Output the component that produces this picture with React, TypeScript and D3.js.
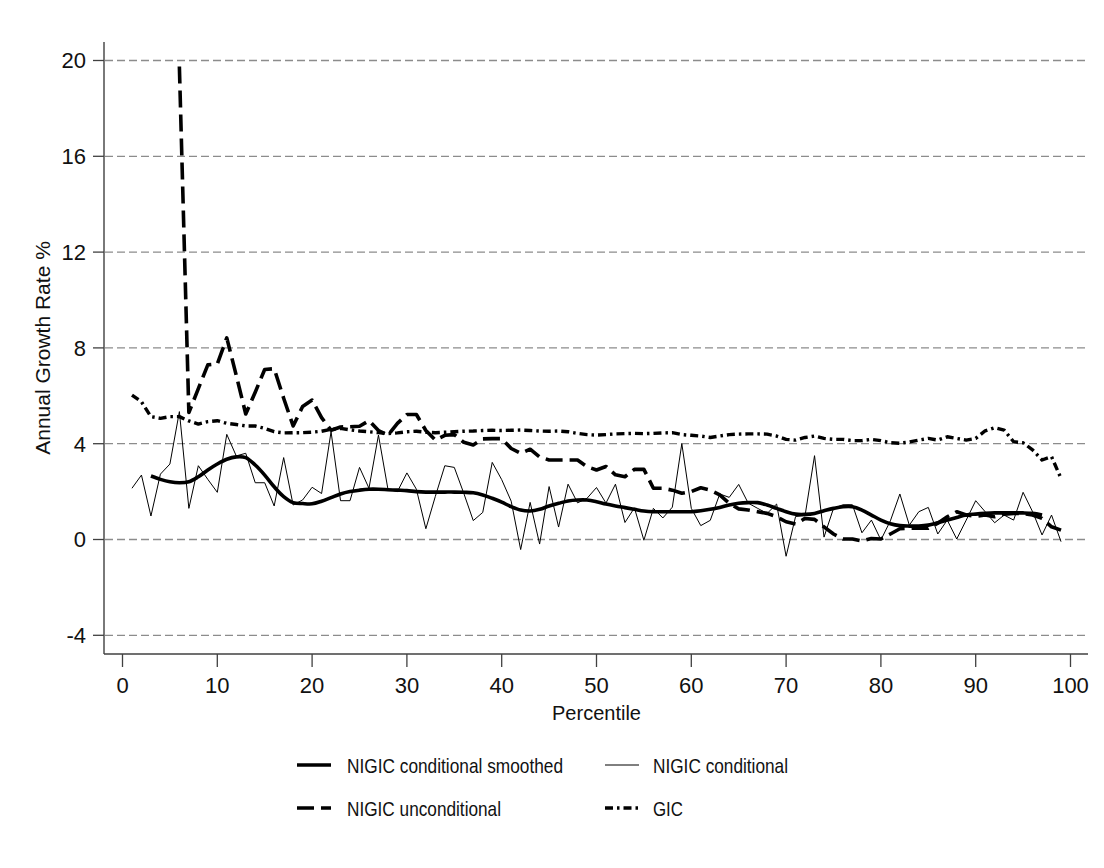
import React from "react";
import * as d3 from "d3";

// Percentile categories
const percentiles = [
  1, 2, 3, 4, 5, 6, 7, 8, 9, 10, 11, 12, 13, 14, 15, 16, 17, 18, 19, 20,
  21, 22, 23, 24, 25, 26, 27, 28, 29, 30, 31, 32, 33, 34, 35, 36, 37, 38, 39, 40,
  41, 42, 43, 44, 45, 46, 47, 48, 49, 50, 51, 52, 53, 54, 55, 56, 57, 58, 59, 60,
  61, 62, 63, 64, 65, 66, 67, 68, 69, 70, 71, 72, 73, 74, 75, 76, 77, 78, 79, 80,
  81, 82, 83, 84, 85, 86, 87, 88, 89, 90, 91, 92, 93, 94, 95, 96, 97, 98, 99,
];

// NIGIC conditional, percentiles 1..99
const conditional = [
  2.14, 2.69, 0.98, 2.73, 3.15, 5.34, 1.3, 3.08, 2.51, 1.97,
  4.39, 3.49, 3.6, 2.37, 2.37, 1.4, 3.42, 1.44, 1.65, 2.18,
  1.92, 4.5, 1.62, 1.62, 3.01, 2.14, 4.36, 2.1, 2.0, 2.78,
  2.1, 0.45, 1.8, 3.08, 3.01, 1.93, 0.79, 1.13, 3.22, 2.5,
  1.6, -0.42, 1.55, -0.19, 2.21, 0.52, 2.31, 1.53, 1.72, 2.17,
  1.52, 2.31, 0.71, 1.32, -0.03, 1.3, 0.9, 1.35, 4.0, 1.3,
  0.58, 0.8, 1.9, 1.76, 2.3, 1.52, 1.3, 1.09, 1.48, -0.7,
  0.96, 1.0, 3.5, 0.1, 1.3, 1.45, 1.45, 0.28, 0.81, -0.02,
  0.78, 1.9, 0.6, 1.16, 1.34, 0.23, 0.81, 0.02, 0.81, 1.62,
  1.16, 0.7, 1.02, 0.81, 1.97, 1.16, 0.19, 1.02, -0.09,
];

// NIGIC conditional smoothed, percentiles 3..97
const smoothedStart = 3;
const smoothed = [
  2.65, 2.51, 2.41, 2.37, 2.41, 2.62, 2.9, 3.15, 3.35, 3.45,
  3.42, 3.11, 2.69, 2.2, 1.79, 1.54, 1.5, 1.49, 1.6, 1.75,
  1.9, 2.0, 2.06, 2.1, 2.1, 2.08, 2.06, 2.04, 2.0, 1.98,
  1.98, 1.98, 1.98, 1.97, 1.95, 1.86, 1.72, 1.56, 1.37, 1.23,
  1.19, 1.26, 1.4, 1.51, 1.61, 1.65, 1.65, 1.58, 1.48, 1.4,
  1.33, 1.26, 1.19, 1.16, 1.16, 1.16, 1.16, 1.16, 1.2, 1.26,
  1.34, 1.44, 1.51, 1.54, 1.54, 1.44, 1.3, 1.16, 1.06, 1.05,
  1.09, 1.2, 1.3, 1.37, 1.37, 1.23, 1.02, 0.81, 0.66, 0.58,
  0.56, 0.56, 0.6, 0.7, 0.81, 0.92, 1.02, 1.06, 1.09, 1.11,
  1.11, 1.11, 1.11, 1.09, 1.02,
];

// NIGIC unconditional, percentiles 6..99
const unconditionalStart = 6;
const unconditional = [
  19.75, 5.3, 6.3, 7.29, 7.33, 8.42, 6.85, 5.24, 6.15, 7.1,
  7.13, 5.9, 4.74, 5.55, 5.82, 5.09, 4.56, 4.7, 4.71, 4.73,
  4.96, 4.55, 4.35, 4.85, 5.22, 5.22, 4.55, 4.15, 4.35, 4.38,
  4.06, 3.95, 4.2, 4.21, 4.21, 3.8, 3.6, 3.77, 3.45, 3.32,
  3.32, 3.32, 3.32, 3.04, 2.9, 3.05, 2.7, 2.62, 2.93, 2.93,
  2.14, 2.14, 2.06, 1.93, 2.0, 2.16, 2.06, 1.86, 1.51, 1.28,
  1.23, 1.16, 1.09, 0.95, 0.74, 0.65, 0.88, 0.84, 0.53, 0.23,
  0.02, 0.02, -0.06, 0.04, 0.02, 0.23, 0.45, 0.47, 0.47, 0.47,
  0.68, 0.95, 1.16, 1.02, 0.97, 1.02, 0.95, 1.06, 1.09, 1.09,
  1.02, 0.88, 0.53, 0.39,
];

// GIC, percentiles 1..99
const gic = [
  6.03, 5.75, 5.13, 5.06, 5.13, 5.13, 4.95, 4.82, 4.92, 4.96,
  4.85, 4.8, 4.74, 4.74, 4.64, 4.5, 4.45, 4.46, 4.46, 4.48,
  4.52, 4.6, 4.64, 4.58, 4.53, 4.5, 4.46, 4.42, 4.45, 4.5,
  4.52, 4.48, 4.46, 4.48, 4.5, 4.52, 4.53, 4.55, 4.56, 4.55,
  4.56, 4.57, 4.55, 4.53, 4.52, 4.53, 4.5, 4.43, 4.38, 4.36,
  4.38, 4.41, 4.42, 4.43, 4.42, 4.43, 4.45, 4.46, 4.38, 4.35,
  4.32, 4.26, 4.32, 4.38, 4.4, 4.41, 4.41, 4.4, 4.32, 4.18,
  4.15, 4.26, 4.32, 4.22, 4.18, 4.18, 4.13, 4.13, 4.18, 4.13,
  4.04, 4.02, 4.07, 4.15, 4.22, 4.15, 4.29, 4.22, 4.15, 4.22,
  4.54, 4.67, 4.57, 4.08, 4.04, 3.74, 3.32, 3.46, 2.55,
];

const xTicks = [0, 10, 20, 30, 40, 50, 60, 70, 80, 90, 100];
const yTicks = [-4, 0, 4, 8, 12, 16, 20];

const legendItems = [
  { label: "NIGIC conditional smoothed", key: "smoothed" },
  { label: "NIGIC conditional", key: "conditional" },
  { label: "NIGIC unconditional", key: "unconditional" },
  { label: "GIC", key: "gic" },
];

const W = 1104;
const H = 868;
const plotLeft = 104;
const plotRight = 1088;
const plotTop = 42;
const plotBottom = 654;

const styles: Record<string, { width: number; dash?: string }> = {
  smoothed: { width: 3.6 },
  conditional: { width: 1 },
  unconditional: { width: 3.6, dash: "17 7" },
  gic: { width: 3.4, dash: "8 4 2.5 4" },
};

type Pt = [number, number];

// Legend labels are set in a condensed face; widths keep them compact
const legendLayout = [
  { lx: 297, tx: 347, cy: 765, tw: 216 },
  { lx: 605, tx: 653, cy: 765, tw: 135 },
  { lx: 297, tx: 347, cy: 808, tw: 154 },
  { lx: 605, tx: 653, cy: 808, tw: 30 },
];

export default function App() {
  const x = d3.scaleLinear().domain([0, 100]).range([122.5, 1070.5]);
  const y = d3.scaleLinear().domain([0, 20]).range([539.5, 60.5]);

  const linear = d3
    .line<Pt>()
    .x((d) => x(d[0]))
    .y((d) => y(d[1]));
  const smooth = d3
    .line<Pt>()
    .x((d) => x(d[0]))
    .y((d) => y(d[1]))
    .curve(d3.curveCatmullRom.alpha(0.5));

  const condPts: Pt[] = conditional.map((v, i) => [percentiles[i], v]);
  const smoothPts: Pt[] = smoothed.map((v, i) => [
    percentiles[percentiles.indexOf(smoothedStart) + i],
    v,
  ]);
  const uncondPts: Pt[] = unconditional.map((v, i) => [
    percentiles[percentiles.indexOf(unconditionalStart) + i],
    v,
  ]);
  const gicPts: Pt[] = gic.map((v, i) => [percentiles[i], v]);

  const font = "'Liberation Sans', Arial, Helvetica, sans-serif";

  return (
    <div style={{ position: "absolute", left: 0, top: 0 }}>
      <svg width={W} height={H} style={{ display: "block", background: "#fff" }}>
        <rect x={0} y={0} width={W} height={H} fill="#fff" />
        {/* horizontal grid */}
        {yTicks.map((t) => (
          <line
            key={"g" + t}
            x1={plotLeft + 1}
            x2={plotRight - 2}
            y1={y(t)}
            y2={y(t)}
            stroke="#8c8c8c"
            strokeWidth={1.3}
            strokeDasharray="8 4"
          />
        ))}
        {/* axes */}
        <line x1={plotLeft} x2={plotLeft} y1={plotTop} y2={plotBottom} stroke="#404040" strokeWidth={1.4} />
        <line x1={plotLeft} x2={plotRight} y1={plotBottom} y2={plotBottom} stroke="#404040" strokeWidth={1.4} />
        {yTicks.map((t) => (
          <g key={"y" + t}>
            <line x1={plotLeft - 11} x2={plotLeft} y1={y(t)} y2={y(t)} stroke="#404040" strokeWidth={1.3} />
            <text
              x={86}
              y={y(t)}
              dy="0.36em"
              textAnchor="end"
              fontFamily={font}
              fontSize={22}
              fill="#111"
            >
              {t}
            </text>
          </g>
        ))}
        {xTicks.map((t) => (
          <g key={"x" + t}>
            <line x1={x(t)} x2={x(t)} y1={plotBottom} y2={plotBottom + 13} stroke="#404040" strokeWidth={1.3} />
            <text
              x={x(t)}
              y={693}
              textAnchor="middle"
              fontFamily={font}
              fontSize={22}
              fill="#111"
            >
              {t}
            </text>
          </g>
        ))}
        <text x={x(50)} y={720} textAnchor="middle" fontFamily={font} fontSize={20} fill="#111">
          Percentile
        </text>
        <text
          transform={`translate(50, ${(plotTop + plotBottom) / 2}) rotate(-90)`}
          textAnchor="middle"
          fontFamily={font}
          fontSize={21}
          fill="#111"
        >
          Annual Growth Rate %
        </text>

        {/* series */}
        <g fill="none" stroke="#000" strokeLinejoin="round">
          <path d={linear(condPts) || ""} strokeWidth={styles.conditional.width} />
          <path d={smooth(smoothPts) || ""} strokeWidth={styles.smoothed.width} />
          <path
            d={linear(uncondPts) || ""}
            strokeWidth={styles.unconditional.width}
            strokeDasharray={styles.unconditional.dash}
          />
          <path d={linear(gicPts) || ""} strokeWidth={styles.gic.width} strokeDasharray={styles.gic.dash} />
        </g>

        {/* legend */}
        {legendItems.map((item, i) => {
          const p = legendLayout[i];
          const s = styles[item.key];
          return (
            <g key={item.key}>
              <line
                x1={p.lx}
                x2={p.lx + 34}
                y1={p.cy}
                y2={p.cy}
                stroke="#000"
                strokeWidth={s.width}
                strokeDasharray={s.dash}
              />
              <text
                x={p.tx}
                y={p.cy}
                dy="0.36em"
                fontFamily={font}
                fontSize={21}
                fill="#111"
                textLength={p.tw}
                lengthAdjust="spacingAndGlyphs"
              >
                {item.label}
              </text>
            </g>
          );
        })}
      </svg>
    </div>
  );
}
